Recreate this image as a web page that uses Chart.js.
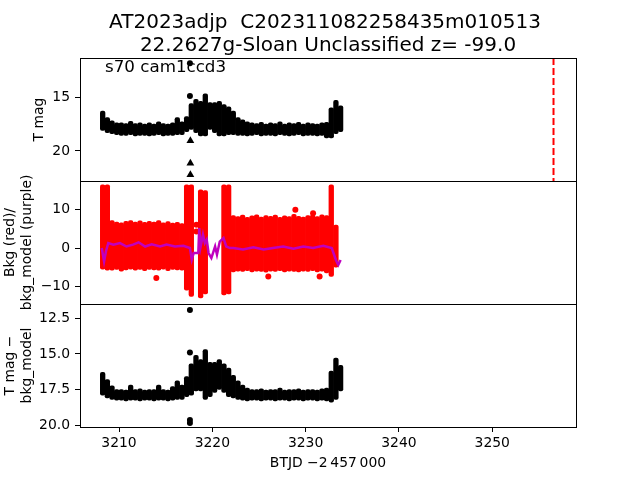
<!DOCTYPE html>
<html lang="en">
<head>
<meta charset="UTF-8">
<style>
    * { margin: 0; padding: 0; box-sizing: border-box; }
    body { background: #fff; width: 640px; height: 480px; overflow: hidden; }
    #lc { display: block; }
</style>
</head>
<body>
<canvas id="lc" width="640" height="480"></canvas>
<script src="https://cdn.jsdelivr.net/npm/chart.js@4/dist/chart.umd.min.js"></script>
<script>
// time bins (BTJD - 2457000), half a day wide
const binT = [3208.25, 3208.75, 3209.25, 3209.75, 3210.25, 3210.75, 3211.25, 3211.75, 3212.25, 3212.75,
              3213.25, 3213.75, 3214.25, 3214.75, 3215.25, 3215.75, 3216.25, 3216.75, 3217.25, 3217.75,
              3218.25, 3218.75, 3219.25, 3219.75, 3220.25, 3220.75, 3221.25, 3221.75, 3222.25, 3222.75,
              3223.25, 3223.75, 3224.25, 3224.75, 3225.25, 3225.75, 3226.25, 3226.75, 3227.25, 3227.75,
              3228.25, 3228.75, 3229.25, 3229.75, 3230.25, 3230.75, 3231.25, 3231.75, 3232.25, 3232.75,
              3233.25, 3233.75];

// top panel: T mag, bright / faint edge of the point cloud per bin
const magLo = [16.3, 16.9, 17.2, 17.4, 17.4, 17.45, 17.25, 17.45, 17.4, 17.5, 17.4, 17.5, 17.3, 17.45, 17.5, 17.4, 16.9, 17.3,
               16.8, 15.6, 15.2, 15.4, 14.7, 15.5, 15.5, 15.4, 15.7, 15.9, 16.3, 16.9, 17.1, 17.3, 17.4, 17.45, 17.35, 17.5,
               17.4, 17.45, 17.3, 17.5, 17.4, 17.45, 17.35, 17.5, 17.4, 17.45, 17.5, 17.4, 17.35, 16.0, 15.3, 15.8];
const magHi = [18.1, 18.3, 18.4, 18.5, 18.55, 18.55, 18.5, 18.6, 18.55, 18.55, 18.6, 18.55, 18.5, 18.6, 18.55, 18.55, 18.5, 18.5,
               18.2, 18.0, 18.3, 18.6, 18.6, 18.0, 18.3, 18.6, 18.6, 18.5, 18.5, 18.55, 18.55, 18.6, 18.55, 18.5, 18.6, 18.55,
               18.55, 18.6, 18.5, 18.55, 18.6, 18.55, 18.5, 18.6, 18.55, 18.55, 18.6, 18.55, 18.8, 18.8, 18.4, 18.2];
const magPtT = [3217.6, 3217.6];
const magPtV = [11.85, 14.9];
const limT = [3217.65, 3217.65, 3217.65];
const limV = [19.05, 21.15, 22.2];
const vlineT = 3256.57;

// middle panel: background (red) and background model (purple)
const bkgLo = [-5.5, -5.8, -5.8, -5.6, -6.0, -5.7, -5.5, -5.8, -5.6, -5.9, -5.6, -5.7, -5.8, -5.5, -5.9, -5.6, -5.7, -5.8,
               -11.0, -12.6, null, -13.0, -12.0, null, null, null, -12.2, -12.0, -6.2, -6.0, -6.1, -5.9, -6.2, -6.0, -6.1, -6.3,
               -6.0, -6.1, -5.9, -6.2, -6.0, -6.1, -6.2, -6.0, -6.1, -5.9, -6.2, -6.0, -6.5, -7.4, -5.0, null];
const bkgHi = [16.5, 16.5, 7.2, 6.8, 6.6, 7.0, 7.2, 6.8, 7.1, 6.7, 7.0, 6.8, 7.2, 6.6, 6.9, 6.5, 6.7, 6.4,
               16.5, 16.5, null, 15.2, 15.0, null, null, null, 16.5, 16.5, 8.5, 8.2, 8.6, 8.0, 8.4, 8.7, 8.1, 8.5,
               8.3, 8.6, 8.0, 8.4, 8.2, 8.8, 8.3, 8.1, 8.5, 8.6, 8.2, 8.7, 8.5, 16.5, 6.0, null];
const bkgPtT = [3214.0, 3218.3, 3218.3, 3226.0, 3228.9, 3230.8, 3231.5];
const bkgPtV = [-7.8, 4.3, 6.1, -7.4, 10.0, 9.1, -7.4];
const modT = [3208.15, 3208.4, 3208.6, 3208.85, 3209.4, 3210.1, 3210.8, 3211.5, 3212.1, 3212.8, 3213.5, 3214.4, 3215.1,
              3216.0, 3216.9, 3217.6, 3217.8, 3218.0, 3218.5, 3218.6, 3218.75, 3219.0, 3219.2, 3219.4, 3219.6, 3219.9,
              3220.3, 3220.5, 3220.8, 3221.2, 3221.5, 3221.9, 3222.25, 3223.3, 3224.4, 3225.5, 3226.5, 3227.6, 3228.7,
              3229.75, 3230.8, 3231.9, 3232.8, 3233.25, 3233.5, 3233.75];
const modV = [0.0, -3.5, -0.9, 1.3, 0.9, 1.3, 0.4, 0.9, 1.5, 0.4, 1.0, 0.4, 0.9,
              0.4, 0.6, 0.0, -3.0, -1.3, -1.3, 5.2, 0.4, 3.5, 1.3, 2.2, -1.3, -2.6,
              0.4, -1.7, 1.7, 2.6, 0.4, 0.0, 0.0, -0.4, 0.2, -0.4, 0.0, 0.4, -0.2,
              0.4, 0.0, 0.6, 0.0, -3.1, -4.4, -3.1];

// bottom panel: T mag - bkg_model
const difLo = [16.3, 16.8, 17.25, 17.5, 17.5, 17.55, 17.2, 17.5, 17.45, 17.55, 17.5, 17.5, 17.2, 17.5, 17.55, 17.3, 16.9, 17.2,
               16.6, 15.7, 15.1, 15.4, 14.7, 15.6, 15.6, 15.4, 15.7, 16.0, 16.5, 16.9, 17.2, 17.4, 17.5, 17.5, 17.45, 17.55,
               17.5, 17.5, 17.4, 17.55, 17.5, 17.5, 17.45, 17.55, 17.5, 17.5, 17.55, 17.45, 17.4, 16.2, 15.3, 15.8];
const difHi = [17.9, 18.1, 18.2, 18.25, 18.25, 18.3, 18.25, 18.25, 18.3, 18.25, 18.25, 18.3, 18.25, 18.25, 18.3, 18.25, 18.2, 18.2,
               18.0, 17.9, 17.6, 17.6, 18.2, 18.0, 17.7, 17.5, 17.7, 18.0, 18.1, 18.2, 18.25, 18.3, 18.25, 18.25, 18.3, 18.25,
               18.25, 18.3, 18.25, 18.25, 18.3, 18.25, 18.25, 18.3, 18.25, 18.25, 18.3, 18.25, 18.3, 18.4, 18.2, 17.6];
const difPtT = [3217.6, 3217.6, 3217.6, 3217.6];
const difPtV = [11.92, 14.9, 19.65, 19.85];

// tick labels
const xTicks = [3210, 3220, 3230, 3240, 3250];
const topTicks = [15, 20];
const midTicks = [10, 0, -10];
const botTicks = [12.5, 15.0, 17.5, 20.0];

const titleLines = ['AT2023adjp  C202311082258435m010513', '22.2627g-Sloan Unclassified z= -99.0'];
const fieldText = 's70 cam1ccd3';

const X_MIN = 3205.82, X_MAX = 3258.98;
const TOP_MIN = 11.37, TOP_MAX = 22.79;
const MID_MIN = -14.6, MID_MAX = 17.5;
const BOT_MIN = 11.49, BOT_MAX = 20.14;

function band(lo, hi) {
    const out = [];
    binT.forEach((t, i) => {
        if (lo[i] !== null) out.push({x: t, y: [lo[i], hi[i]]});
    });
    return out;
}
function pts(ts, vs) {
    return ts.map((t, i) => ({x: t, y: vs[i]}));
}

const FONT = 'DejaVu Sans';
Chart.defaults.font.family = FONT;
Chart.defaults.font.size = 13.9;
Chart.defaults.color = '#000';

const barOpts = {type: 'bar', grouped: false, barPercentage: 1, categoryPercentage: 1, borderWidth: 0,
                 borderRadius: 2, borderSkipped: false, order: 2};
const dotOpts = {type: 'line', showLine: false, pointRadius: 3, pointBorderWidth: 0, order: 1};

function yAxis(min, max, ticks, title, pad, fmt) {
    return {
        type: 'linear', position: 'left', stack: 'panels', stackWeight: 1,
        min: min, max: max, reverse: min > 0,
        afterBuildTicks: s => { s.ticks = ticks.map(v => ({value: v})); },
        afterFit: s => { s.width = 80; },
        grid: {drawOnChartArea: false, tickLength: 5, tickColor: '#000', tickWidth: 1},
        border: {display: false},
        ticks: {padding: 5, callback: fmt},
        title: {display: true, text: title, padding: {top: pad, bottom: 0}}
    };
}

const framePlugin = {
    id: 'frames',
    afterDatasetsDraw(chart) {
        const {ctx, chartArea} = chart;
        ctx.save();
        ctx.strokeStyle = '#000';
        ctx.lineWidth = 1;
        ['yTop', 'yMid', 'yBot'].forEach(id => {
            const s = chart.scales[id];
            ctx.strokeRect(Math.round(chartArea.left) + 0.5, Math.round(s.top) + 0.5,
                           Math.round(chartArea.right - chartArea.left), Math.round(s.bottom - s.top));
        });
        ctx.restore();
    }
};

const textPlugin = {
    id: 'texts',
    beforeDatasetsDraw(chart) {
        const {ctx, chartArea} = chart;
        ctx.save();
        ctx.fillStyle = '#000';
        ctx.textBaseline = 'alphabetic';
        ctx.font = '16.7px "' + FONT + '"';
        ctx.textAlign = 'left';
        ctx.fillText(fieldText, 105, 71.5);
        ctx.font = '20px "' + FONT + '"';
        ctx.textAlign = 'center';
        const cx = (chartArea.left + chartArea.right) / 2;
        ctx.fillText(titleLines[0], cx - 3, 27.5);
        ctx.fillText(titleLines[1], cx, 50.5);
        ctx.restore();
    }
};

new Chart(document.getElementById('lc'), {
    type: 'bar',
    data: {
        datasets: [
            {...dotOpts, type: 'line', data: [{x: vlineT, y: TOP_MIN}, {x: vlineT, y: TOP_MAX}], yAxisID: 'yTop',
             showLine: true, pointRadius: 0, borderColor: '#ff0000', borderWidth: 2, borderDash: [7, 3]},
            {...barOpts, data: band(magLo, magHi), yAxisID: 'yTop', backgroundColor: '#000'},
            {...dotOpts, data: pts(magPtT, magPtV), yAxisID: 'yTop', backgroundColor: '#000'},
            {...dotOpts, data: pts(limT, limV), yAxisID: 'yTop', backgroundColor: '#000', pointStyle: 'triangle', pointRadius: 4.5},
            {...barOpts, data: band(bkgLo, bkgHi), yAxisID: 'yMid', backgroundColor: '#ff0000'},
            {...dotOpts, data: pts(bkgPtT, bkgPtV), yAxisID: 'yMid', backgroundColor: '#ff0000'},
            {type: 'line', data: pts(modT, modV), yAxisID: 'yMid', borderColor: '#bf00bf', borderWidth: 2.5,
             pointRadius: 0, order: 0},
            {...barOpts, data: band(difLo, difHi), yAxisID: 'yBot', backgroundColor: '#000'},
            {...dotOpts, data: pts(difPtT, difPtV), yAxisID: 'yBot', backgroundColor: '#000'}
        ]
    },
    options: {
        responsive: false,
        animation: false,
        events: [],
        layout: {padding: {top: 58, right: 64, left: 0, bottom: 0}},
        plugins: {legend: {display: false}, tooltip: {enabled: false}, title: {display: false}},
        scales: {
            x: {
                type: 'linear', position: 'bottom', min: X_MIN, max: X_MAX, offset: false,
                afterBuildTicks: s => { s.ticks = xTicks.map(v => ({value: v})); },
                afterFit: s => { s.height = 53; },
                grid: {offset: false, drawOnChartArea: false, tickLength: 5, tickColor: '#000', tickWidth: 1},
                border: {display: false},
                ticks: {padding: 3, autoSkip: false, maxRotation: 0, callback: v => String(v)},
                title: {display: true, text: 'BTJD \u22122\u2009457\u2009000', padding: {top: 0, bottom: 8}}
            },
            yBot: yAxis(BOT_MIN, BOT_MAX, botTicks, ['T mag \u2212', 'bkg_model'], 2, v => v.toFixed(1)),
            yMid: yAxis(MID_MIN, MID_MAX, midTicks, ['Bkg (red)/', 'bkg_model (purple)'], 2, v => String(v).replace('-', '\u2212')),
            yTop: yAxis(TOP_MIN, TOP_MAX, topTicks, 'T mag', 31, v => String(v))
        }
    },
    plugins: [framePlugin, textPlugin]
});
</script>
</body>
</html>
